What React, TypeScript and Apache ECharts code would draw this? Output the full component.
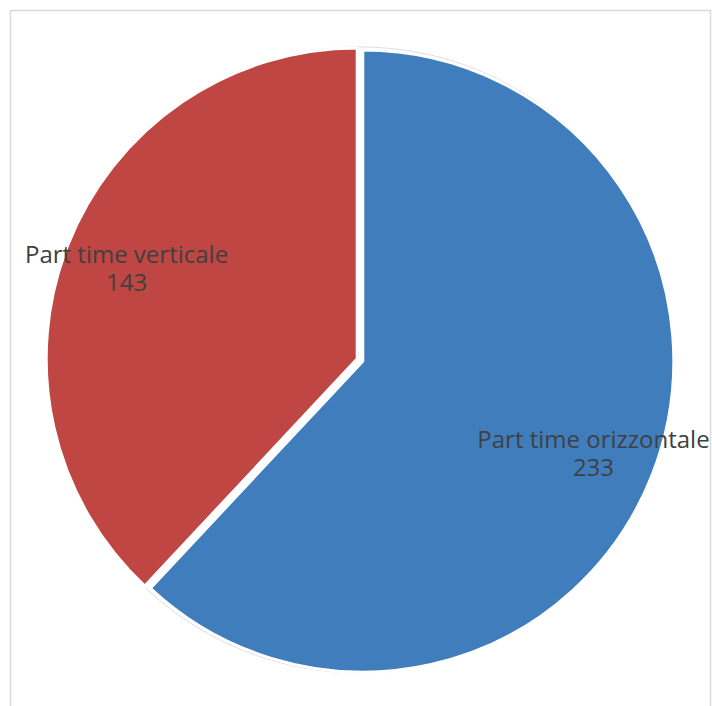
import React, { useEffect, useRef } from "react";
import * as echarts from "echarts";

const categories = ["Part time orizzontale", "Part time verticale"];
const values = [233, 143];
const colors = ["#407DBD", "#BF4643"];

const CX = 360;
const CY = 360;
const R = 311;

export default function App() {
  const ref = useRef<HTMLDivElement>(null);

  useEffect(() => {
    if (!ref.current) return;
    const chart = echarts.init(ref.current, null, { renderer: "svg" });
    const data = categories.map((name, i) => ({
      name,
      value: values[i],
      selected: true,
      itemStyle: { color: colors[i] },
    }));
    chart.setOption({
      animation: false,
      backgroundColor: "#ffffff",
      graphic: [
        {
          type: "rect",
          shape: { x: 10.5, y: 10.5, width: 700, height: 710 },
          style: { fill: "none", stroke: "#d9d9d9", lineWidth: 1.5 },
          z: 0,
        },
        {
          type: "circle",
          shape: { cx: CX, cy: CY, r: R + 2 },
          style: { fill: "none", stroke: "rgba(205,212,228,0.8)", lineWidth: 1 },
          z: 0,
        },
      ],
      series: [
        {
          type: "pie",
          center: [CX, CY],
          radius: [0, R],
          startAngle: 90,
          clockwise: true,
          selectedMode: "multiple",
          selectedOffset: 3,
          itemStyle: { borderColor: "#ffffff", borderWidth: 3 },
          label: { show: false },
          labelLine: { show: false },
          emphasis: { disabled: true },
          data,
          z: 2,
        },
        {
          type: "pie",
          center: [CX, CY],
          radius: [185, R],
          startAngle: 90,
          clockwise: true,
          silent: true,
          itemStyle: { color: "rgba(0,0,0,0)", borderWidth: 0 },
          label: {
            show: true,
            position: "inside",
            formatter: "{b}\n{c}",
            color: "#404040",
            fontFamily: "Open Sans",
            fontSize: 24,
            lineHeight: 28,
            align: "center",
          },
          labelLine: { show: false },
          emphasis: { disabled: true },
          data: categories.map((name, i) => ({ name, value: values[i] })),
          z: 3,
        },
      ],
    });
    return () => chart.dispose();
  }, []);

  return (
    <div style={{ position: "absolute", left: 0, top: 0 }}>
      <div ref={ref} style={{ width: 712, height: 706 }} />
    </div>
  );
}
